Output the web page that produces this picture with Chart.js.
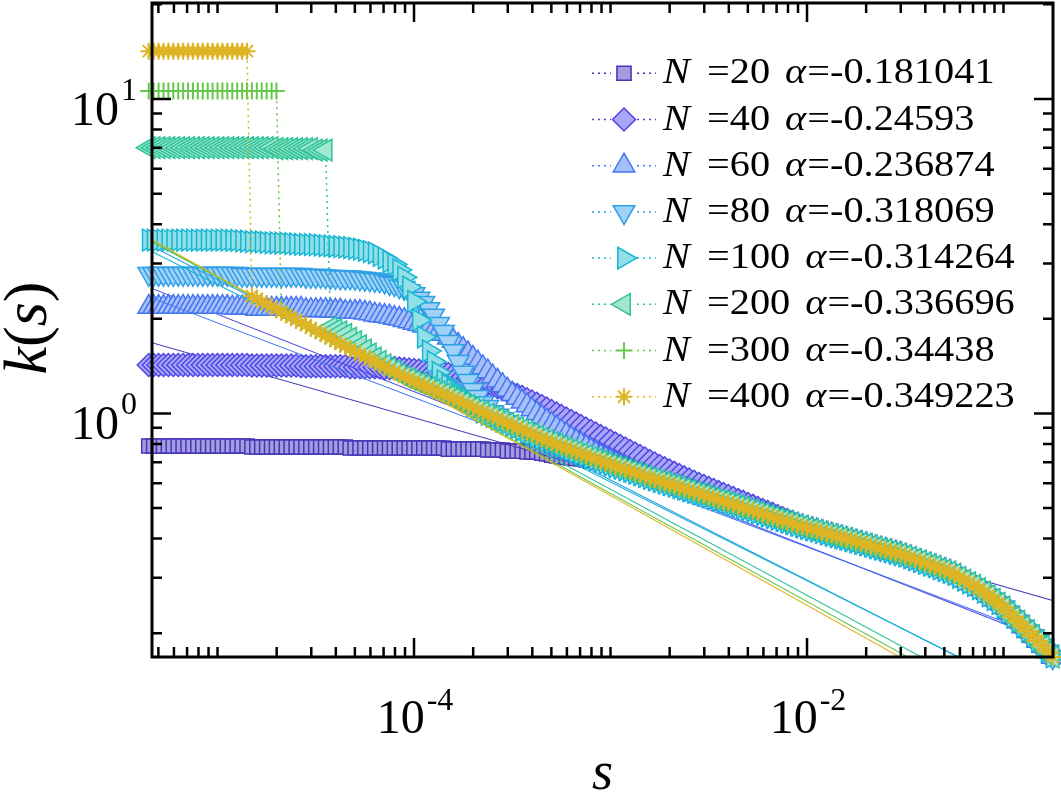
<!DOCTYPE html>
<html>
<head>
<meta charset="utf-8">
<script src="https://cdn.jsdelivr.net/npm/chart.js@4.4.0/dist/chart.umd.min.js"></script>
<style>
  html, body { margin: 0; padding: 0; background: #fff; }
  #plot { display: block; }
</style>
</head>
<body>
<canvas id="plot" width="1061" height="794"></canvas>
<script>
// s values (40 per decade)
const sGrid = [
  4.467e-6, 4.732e-6, 5.012e-6, 5.309e-6, 5.623e-6, 5.957e-6, 6.310e-6, 6.683e-6, 7.079e-6, 7.499e-6,
  7.943e-6, 8.414e-6, 8.913e-6, 9.441e-6,
  1.000e-5, 1.059e-5, 1.122e-5, 1.189e-5, 1.259e-5, 1.334e-5, 1.413e-5, 1.496e-5, 1.585e-5, 1.679e-5,
  1.778e-5, 1.884e-5, 1.995e-5, 2.113e-5, 2.239e-5, 2.371e-5, 2.512e-5, 2.661e-5, 2.818e-5, 2.985e-5,
  3.162e-5, 3.350e-5, 3.548e-5, 3.758e-5, 3.981e-5, 4.217e-5, 4.467e-5, 4.732e-5, 5.012e-5, 5.309e-5,
  5.623e-5, 5.957e-5, 6.310e-5, 6.683e-5, 7.079e-5, 7.499e-5, 7.943e-5, 8.414e-5, 8.913e-5, 9.441e-5,
  1.000e-4, 1.059e-4, 1.122e-4, 1.189e-4, 1.259e-4, 1.334e-4, 1.413e-4, 1.496e-4, 1.585e-4, 1.679e-4,
  1.778e-4, 1.884e-4, 1.995e-4, 2.113e-4, 2.239e-4, 2.371e-4, 2.512e-4, 2.661e-4, 2.818e-4, 2.985e-4,
  3.162e-4, 3.350e-4, 3.548e-4, 3.758e-4, 3.981e-4, 4.217e-4, 4.467e-4, 4.732e-4, 5.012e-4, 5.309e-4,
  5.623e-4, 5.957e-4, 6.310e-4, 6.683e-4, 7.079e-4, 7.499e-4, 7.943e-4, 8.414e-4, 8.913e-4, 9.441e-4,
  1.000e-3, 1.059e-3, 1.122e-3, 1.189e-3, 1.259e-3, 1.334e-3, 1.413e-3, 1.496e-3, 1.585e-3, 1.679e-3,
  1.778e-3, 1.884e-3, 1.995e-3, 2.113e-3, 2.239e-3, 2.371e-3, 2.512e-3, 2.661e-3, 2.818e-3, 2.985e-3,
  3.162e-3, 3.350e-3, 3.548e-3, 3.758e-3, 3.981e-3, 4.217e-3, 4.467e-3, 4.732e-3, 5.012e-3, 5.309e-3,
  5.623e-3, 5.957e-3, 6.310e-3, 6.683e-3, 7.079e-3, 7.499e-3, 7.943e-3, 8.414e-3, 8.913e-3, 9.441e-3,
  1.000e-2, 1.059e-2, 1.122e-2, 1.189e-2, 1.259e-2, 1.334e-2, 1.413e-2, 1.496e-2, 1.585e-2, 1.679e-2,
  1.778e-2, 1.884e-2, 1.995e-2, 2.113e-2, 2.239e-2, 2.371e-2, 2.512e-2, 2.661e-2, 2.818e-2, 2.985e-2,
  3.162e-2, 3.350e-2, 3.548e-2, 3.758e-2, 3.981e-2, 4.217e-2, 4.467e-2, 4.732e-2, 5.012e-2, 5.309e-2,
  5.623e-2, 5.957e-2, 6.310e-2, 6.683e-2, 7.079e-2, 7.499e-2, 7.943e-2, 8.414e-2, 8.913e-2, 9.441e-2,
  0.1000, 0.1059, 0.1122, 0.1189, 0.1259, 0.1334, 0.1413, 0.1496, 0.1585, 0.1679, 0.1778
];

// common branch that every N falls onto (from the 22nd s value to the end)
const mainStart = 21;
const kMain = [
  2.362, 2.317, 2.272, 2.228, 2.186, 2.143, 2.102, 2.062, 2.022, 1.983,
  1.945, 1.908, 1.871, 1.835, 1.800, 1.765, 1.731, 1.698, 1.665, 1.633,
  1.602, 1.572, 1.543, 1.514, 1.486, 1.459, 1.432, 1.405, 1.379, 1.354, 1.329,
  1.307, 1.286, 1.266, 1.246, 1.227, 1.207, 1.188, 1.170, 1.151, 1.133,
  1.115, 1.097, 1.079, 1.061, 1.043, 1.026, 1.009, 0.993, 0.977, 0.961,
  0.945, 0.930, 0.916, 0.901, 0.887, 0.873, 0.860, 0.846, 0.833, 0.820,
  0.808, 0.797, 0.786, 0.775, 0.765, 0.754, 0.744, 0.734, 0.724, 0.714,
  0.705, 0.696, 0.687, 0.679, 0.671, 0.663, 0.655, 0.647, 0.639, 0.631, 0.623,
  0.616, 0.609, 0.602, 0.595, 0.589, 0.582, 0.575, 0.569, 0.562, 0.556,
  0.550, 0.543, 0.537, 0.531, 0.525, 0.519, 0.513, 0.507, 0.501, 0.496,
  0.490, 0.484, 0.479, 0.473, 0.468, 0.462, 0.457, 0.452, 0.447, 0.441,
  0.437, 0.432, 0.428, 0.424, 0.419, 0.415, 0.411, 0.407, 0.403, 0.399,
  0.395, 0.391, 0.387, 0.383, 0.379, 0.375, 0.371, 0.368, 0.364, 0.360,
  0.357, 0.352, 0.348, 0.343, 0.339, 0.334, 0.330, 0.326, 0.321, 0.317, 0.313,
  0.308, 0.301, 0.295, 0.289, 0.284,
  0.277, 0.270, 0.263, 0.256, 0.249,
  0.242, 0.233, 0.225, 0.218, 0.210,
  0.203, 0.196, 0.189, 0.182, 0.175, 0.168
];

// each N up to the point where it joins kMain
const k20 = [
  0.788, 0.788, 0.788, 0.788, 0.788, 0.788, 0.788, 0.788, 0.788, 0.788, 0.788,
  0.788, 0.788, 0.788, 0.788, 0.788, 0.788, 0.788, 0.788, 0.788, 0.788,
  0.782, 0.782, 0.782, 0.782, 0.782, 0.782, 0.782, 0.782, 0.782, 0.782,
  0.782, 0.782, 0.782, 0.782, 0.782, 0.782, 0.782, 0.782, 0.782, 0.782,
  0.776, 0.776, 0.776, 0.776, 0.776, 0.776, 0.776, 0.776, 0.776, 0.776,
  0.776, 0.776, 0.776, 0.776, 0.776, 0.776, 0.776, 0.776, 0.776, 0.776,
  0.770, 0.770, 0.770, 0.770, 0.770, 0.770, 0.770, 0.770,
  0.765, 0.765, 0.765, 0.765, 0.759, 0.759, 0.759, 0.759, 0.754, 0.754, 0.754,
  0.748, 0.743, 0.737, 0.732, 0.727, 0.724, 0.721, 0.719, 0.716, 0.711, 0.708, 0.703
];
const k40 = [
  1.425, 1.425, 1.425, 1.425, 1.425, 1.425, 1.425, 1.425, 1.425, 1.425, 1.425,
  1.425, 1.425, 1.425, 1.425, 1.425, 1.425, 1.425, 1.425, 1.425, 1.425,
  1.420, 1.420, 1.420, 1.420, 1.420, 1.420, 1.420, 1.420, 1.420, 1.420,
  1.412, 1.412, 1.412, 1.412, 1.412, 1.412, 1.412, 1.412, 1.412, 1.412,
  1.403, 1.403, 1.403, 1.403, 1.403, 1.403, 1.403, 1.394, 1.394, 1.394,
  1.388, 1.383, 1.379, 1.374, 1.369, 1.364, 1.359, 1.354, 1.349, 1.344,
  1.335, 1.325, 1.315, 1.306, 1.294, 1.282, 1.270, 1.259, 1.242, 1.227,
  1.211, 1.196, 1.178, 1.161, 1.144, 1.128, 1.109, 1.091, 1.073, 1.056,
  1.037, 1.018, 0.999, 0.981, 0.963, 0.946, 0.929, 0.912, 0.895, 0.879,
  0.863, 0.847, 0.832, 0.817, 0.802, 0.788, 0.773, 0.759, 0.746, 0.732,
  0.719, 0.706, 0.693, 0.680, 0.669, 0.658, 0.647, 0.637, 0.626, 0.616,
  0.606, 0.596, 0.588, 0.579, 0.571, 0.562, 0.554, 0.546, 0.538, 0.530,
  0.523, 0.515, 0.508, 0.500, 0.493, 0.486, 0.479, 0.472, 0.465, 0.458,
  0.451, 0.445
];
const k60 = [
  2.18, 2.18, 2.18, 2.18, 2.18, 2.18, 2.18, 2.18, 2.18, 2.18, 2.18, 2.18, 2.18, 2.18, 2.18, 2.18, 2.18,
  2.17, 2.17, 2.17, 2.17, 2.17,
  2.15, 2.15, 2.15, 2.15, 2.15, 2.15, 2.15, 2.15, 2.15, 2.15,
  2.13, 2.13, 2.13, 2.13, 2.13, 2.12, 2.12, 2.12, 2.10, 2.10, 2.10, 2.10,
  2.09, 2.08, 2.06, 2.05, 2.04, 2.03, 2.01, 2.00, 1.98, 1.96,
  1.94, 1.92, 1.90, 1.87, 1.84, 1.82, 1.79, 1.74, 1.70, 1.65,
  1.60, 1.55, 1.50, 1.45, 1.40, 1.36, 1.31, 1.27, 1.23, 1.19,
  1.15, 1.12, 1.09, 1.06, 1.03, 1.00, 0.974, 0.949, 0.925, 0.902,
  0.879, 0.857, 0.835, 0.817, 0.799, 0.782, 0.765, 0.748, 0.732, 0.719,
  0.706, 0.693, 0.680, 0.670, 0.660
];
const k80 = [
  2.78, 2.78, 2.78, 2.78, 2.78, 2.78, 2.78, 2.78, 2.78, 2.78,
  2.78, 2.78, 2.78, 2.78, 2.78, 2.78, 2.78, 2.78, 2.78,
  2.76, 2.76, 2.76, 2.76, 2.76, 2.76, 2.76, 2.76, 2.76, 2.76, 2.76, 2.76, 2.76,
  2.74, 2.74, 2.74, 2.74,
  2.73, 2.72, 2.72, 2.71, 2.71, 2.71, 2.70, 2.69, 2.68, 2.67,
  2.66, 2.65, 2.63, 2.60, 2.58, 2.54, 2.51, 2.45, 2.40, 2.32,
  2.25, 2.15, 2.05, 1.93, 1.82, 1.69, 1.58, 1.46, 1.35, 1.27,
  1.19, 1.13, 1.08, 1.05, 1.01, 0.985, 0.960, 0.939, 0.922, 0.902
];
const k100 = [
  3.56, 3.56, 3.56, 3.56, 3.56, 3.56, 3.56, 3.56, 3.56, 3.56, 3.56, 3.56, 3.56, 3.56, 3.56, 3.56, 3.56,
  3.55, 3.55, 3.54, 3.53, 3.52, 3.52, 3.51, 3.50, 3.49, 3.49, 3.48, 3.48, 3.47, 3.46,
  3.45, 3.45, 3.44, 3.44, 3.43, 3.42, 3.41, 3.40, 3.39, 3.38,
  3.37, 3.35, 3.33, 3.30, 3.27, 3.24, 3.18, 3.12, 3.04, 2.98,
  2.86, 2.71, 2.52, 2.27, 1.98, 1.75, 1.58, 1.46, 1.35, 1.27,
  1.23, 1.19, 1.15, 1.12, 1.09, 1.06, 1.04
];
const k200 = [
  7.0, 7.0, 7.0, 7.0, 7.0, 7.0, 7.0, 7.0, 7.0, 7.0, 7.0, 7.0, 7.0,
  7.0, 7.0, 7.0, 7.0, 7.0, 7.0, 7.0, 7.0, 7.0, 7.0, 7.0, 7.0, 7.0,
  6.95, 6.95, 6.95, 6.95, 6.95, 6.95, 6.95, 6.95, 6.88, 6.88, 6.88,
  1.876, 1.847, 1.818, 1.783, 1.736, 1.691, 1.642, 1.594, 1.547, 1.502,
  1.464, 1.426, 1.394, 1.364, 1.334
];
const k300 = [
  10.6, 10.6, 10.6, 10.6, 10.6, 10.6, 10.6, 10.6, 10.6, 10.6, 10.6, 10.6, 10.6, 10.6,
  10.6, 10.6, 10.6, 10.6, 10.6, 10.6, 10.6, 10.6, 10.6, 10.6, 10.6, 10.6, 10.6,
  2.15, 2.08
];
const k400 = [
  14.2, 14.2, 14.2, 14.2, 14.2, 14.2, 14.2, 14.2, 14.2, 14.2, 14.2,
  14.2, 14.2, 14.2, 14.2, 14.2, 14.2, 14.2, 14.2, 14.2, 14.2
];

const sizes = [20, 40, 60, 80, 100, 200, 300, 400];
const alphas = ['-0.181041', '-0.24593', '-0.236874', '-0.318069', '-0.314264', '-0.336696', '-0.34438', '-0.349223'];
const kHeads = [k20, k40, k60, k80, k100, k200, k300, k400];

// power-law fits: values at the two ends of the s range
const fitS = [4.467e-6, 0.1778];
const fitLeft = [1.69, 2.52, 2.35, 3.44, 3.31, 3.56, 3.58, 3.62];
const fitRight = [0.254, 0.186, 0.190, 0.118, 0.119, 0.100, 0.0937, 0.0899];

// ticks
const xMajorTicks = [1e-4, 1e-2];
const xMajorExp = ['-4', '-2'];
const yMajorTicks = [1, 10];
const yMajorExp = ['0', '1'];
const tickMantissas = [1, 2, 3, 4, 5, 6, 7, 8, 9];
const xDecades = [1e-6, 1e-5, 1e-4, 1e-3, 1e-2, 1e-1];
const yDecades = [0.1, 1, 10];

const borders = ['#4636b8', '#4d46e6', '#4475f2', '#2f9fe8', '#17b6d2', '#2ec498', '#66c84a', '#dfb423'];
const fills = ['#a49cdf', '#a9a7f5', '#a6bff9', '#a1d2f6', '#92dfe8', '#a3e6d1', '#66c84a', '#dfb423'];
const styles = ['rect', 'rectRot', 'triangle', 'triangle', 'triangle', 'triangle', 'cross', 'star'];
const rotations = [0, 0, 0, 180, 90, 270, 0, 0];
const radii = [10, 11.5, 12.5, 12.5, 12.5, 12.5, 8.5, 8.5];

// drawing order as in the original: data N, fit N, data next N, ...
const datasets = [];
kHeads.forEach((head, i) => {
  const ks = head.concat(kMain.slice(head.length - mainStart));
  if (ks.length !== sGrid.length) throw new Error('length mismatch N=' + sizes[i] + ': ' + ks.length);
  datasets.push({
    data: sGrid.map((s, j) => ({ x: s, y: ks[j] })),
    showLine: true,
    borderColor: borders[i],
    borderWidth: 1.5,
    borderDash: [2, 4],
    backgroundColor: fills[i],
    pointBackgroundColor: fills[i],
    pointBorderColor: borders[i],
    pointBorderWidth: i >= 6 ? 2 : 1.5,
    pointStyle: styles[i],
    pointRotation: rotations[i],
    pointRadius: radii[i],
    clip: false,
    order: 2 * (7 - i) + 1
  });
  datasets.push({
    data: [{ x: fitS[0], y: fitLeft[i] }, { x: fitS[1], y: fitRight[i] }],
    showLine: true,
    borderColor: borders[i],
    borderWidth: 1.1,
    pointRadius: 0,
    order: 2 * (7 - i)
  });
});

function minorTicks(decades, majors, lo, hi) {
  const out = [];
  decades.forEach(d => tickMantissas.forEach(m => {
    const v = m * d;
    if (v >= lo && v <= hi && !majors.some(t => Math.abs(t - v) / t < 1e-6)) out.push(v);
  }));
  return out;
}

function stretchText(ctx, txt, x, y, font, sx) {
  ctx.save();
  ctx.font = font;
  ctx.translate(x, y);
  ctx.scale(sx, 1);
  ctx.fillText(txt, 0, 0);
  const w = ctx.measureText(txt).width * sx;
  ctx.restore();
  return w;
}

const framePlugin = {
  id: 'frame',
  afterDatasetsDraw(chart) {
    const ctx = chart.ctx, a = chart.chartArea;
    const xs = chart.scales.x, ys = chart.scales.y;
    ctx.save();
    ctx.strokeStyle = '#000';
    ctx.lineWidth = 2.5;
    ctx.beginPath();
    minorTicks(xDecades, xMajorTicks, xs.min, xs.max).forEach(v => {
      const p = xs.getPixelForValue(v);
      ctx.moveTo(p, a.bottom); ctx.lineTo(p, a.bottom - 10);
      ctx.moveTo(p, a.top); ctx.lineTo(p, a.top + 10);
    });
    xMajorTicks.forEach(v => {
      const p = xs.getPixelForValue(v);
      ctx.moveTo(p, a.bottom); ctx.lineTo(p, a.bottom - 19);
      ctx.moveTo(p, a.top); ctx.lineTo(p, a.top + 19);
    });
    minorTicks(yDecades, yMajorTicks, ys.min, ys.max).forEach(v => {
      const p = ys.getPixelForValue(v);
      ctx.moveTo(a.left, p); ctx.lineTo(a.left + 10, p);
      ctx.moveTo(a.right, p); ctx.lineTo(a.right - 10, p);
    });
    yMajorTicks.forEach(v => {
      const p = ys.getPixelForValue(v);
      ctx.moveTo(a.left, p); ctx.lineTo(a.left + 19, p);
      ctx.moveTo(a.right, p); ctx.lineTo(a.right - 19, p);
    });
    ctx.stroke();
    ctx.lineWidth = 3;
    ctx.strokeRect(a.left, a.top, a.right - a.left, a.bottom - a.top);
    ctx.restore();
  },
  afterDraw(chart) {
    const ctx = chart.ctx, a = chart.chartArea;
    const xs = chart.scales.x, ys = chart.scales.y;
    const big = '48px "Liberation Serif", "Times New Roman", serif';
    const small = '32px "Liberation Serif", "Times New Roman", serif';
    ctx.save();
    ctx.fillStyle = '#000';
    ctx.textBaseline = 'alphabetic';
    // x tick labels
    xMajorTicks.forEach((v, i) => {
      const p = xs.getPixelForValue(v);
      ctx.font = big; const w1 = ctx.measureText('10').width;
      ctx.font = small; const w2 = ctx.measureText(xMajorExp[i]).width;
      const x0 = p - (w1 + 2 + w2) / 2 + 1;
      ctx.font = big; ctx.fillText('10', x0, 733);
      ctx.font = small; ctx.fillText(xMajorExp[i], x0 + w1 + 2, 710);
    });
    // y tick labels
    yMajorTicks.forEach((v, i) => {
      const p = ys.getPixelForValue(v);
      ctx.font = small; const w2 = ctx.measureText(yMajorExp[i]).width;
      ctx.font = big; const w1 = ctx.measureText('10').width;
      const xr = 137;
      ctx.font = big; ctx.fillText('10', xr - w2 - 2 - w1, p + 26);
      ctx.font = small; ctx.fillText(yMajorExp[i], xr - w2, p + 1);
    });
    // axis titles
    const it = 'italic 54px "Liberation Serif", "Times New Roman", serif';
    ctx.font = it; ctx.textAlign = 'center';
    ctx.fillText('s', (a.left + a.right) / 2, 789);
    ctx.textAlign = 'left';
    const it2 = 'italic 62px "Liberation Serif", "Times New Roman", serif';
    const rm2 = '62px "Liberation Serif", "Times New Roman", serif';
    const parts = [['k', it2], ['(', rm2], ['s', it2], [')', rm2]];
    let tw = 0;
    parts.forEach(p => { ctx.font = p[1]; tw += ctx.measureText(p[0]).width; });
    ctx.save();
    ctx.translate(46, 328);
    ctx.rotate(-Math.PI / 2);
    let cx = -tw / 2;
    parts.forEach(p => { ctx.font = p[1]; ctx.fillText(p[0], cx, 0); cx += ctx.measureText(p[0]).width; });
    ctx.restore();
    // legend
    const ifont = 'italic 36px "Liberation Serif", "Times New Roman", serif';
    const rfont = '36px "Liberation Serif", "Times New Roman", serif';
    sizes.forEach((n, i) => {
      const y = 73.3 + i * 46.2;
      ctx.save();
      ctx.strokeStyle = borders[i];
      ctx.lineWidth = 1.5;
      ctx.setLineDash([2, 4]);
      ctx.beginPath();
      ctx.moveTo(592, y); ctx.lineTo(611, y);
      ctx.moveTo(637, y); ctx.lineTo(656, y);
      ctx.stroke();
      ctx.setLineDash([]);
      ctx.fillStyle = fills[i];
      ctx.strokeStyle = borders[i];
      ctx.lineWidth = i >= 6 ? 2 : 1.5;
      Chart.helpers.drawPoint(ctx, {
        pointStyle: styles[i], rotation: rotations[i], radius: radii[i],
        borderWidth: i >= 6 ? 2 : 1.5
      }, 624, y);
      ctx.restore();
      ctx.fillStyle = '#000';
      stretchText(ctx, 'N', 663, y + 10, ifont, 1.12);
      let x = 707;
      x += stretchText(ctx, '=' + n, x, y + 10, rfont, 1.12) + 15;
      x += stretchText(ctx, '\u03b1', x, y + 10, ifont, 1.12) + 1;
      stretchText(ctx, '=' + alphas[i], x, y + 10, rfont, 1.12);
    });
    ctx.restore();
  }
};

new Chart(document.getElementById('plot'), {
  type: 'scatter',
  data: { datasets: datasets },
  options: {
    responsive: false,
    animation: false,
    devicePixelRatio: 1,
    events: [],
    layout: { autoPadding: false, padding: { left: 152, right: 8, top: 3, bottom: 137 } },
    plugins: { legend: { display: false }, tooltip: { enabled: false } },
    scales: {
      x: { type: 'logarithmic', display: false, bounds: 'data', min: 4.64e-6, max: 0.1786 },
      y: { type: 'logarithmic', display: false, bounds: 'data', min: 0.168, max: 20.2 }
    }
  },
  plugins: [framePlugin]
});
</script>
</body>
</html>
